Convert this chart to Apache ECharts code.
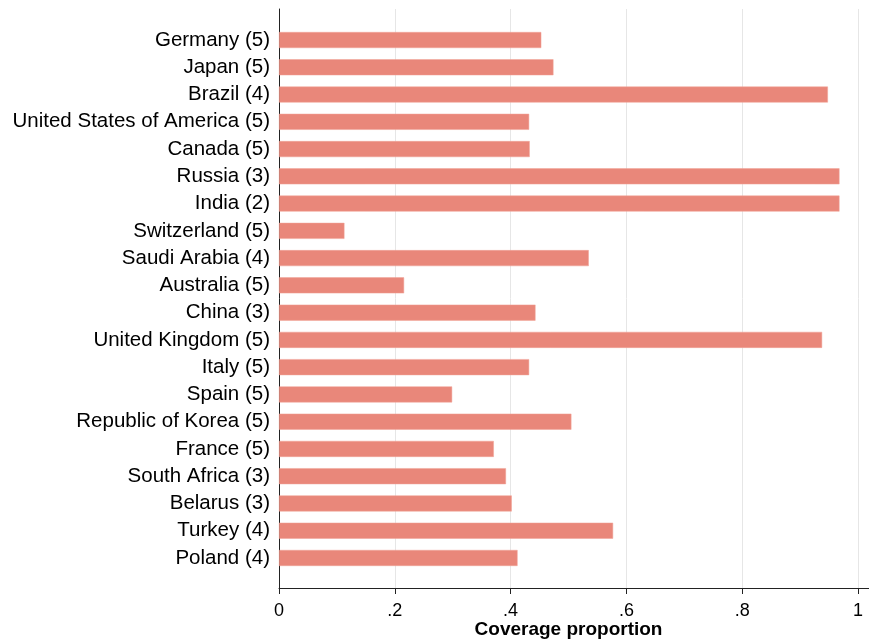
<!DOCTYPE html>
<html>
<head>
<meta charset="utf-8">
<script src="https://cdn.jsdelivr.net/npm/echarts@6/dist/echarts.min.js"></script>
<style>
html,body{margin:0;padding:0;background:#fff;}
#chart{width:869px;height:641px;}
</style>
</head>
<body>
<div id="chart"></div>
<script>
const categories = [
  "Germany (5)", "Japan (5)", "Brazil (4)", "United States of America (5)", "Canada (5)",
  "Russia (3)", "India (2)", "Switzerland (5)", "Saudi Arabia (4)", "Australia (5)",
  "China (3)", "United Kingdom (5)", "Italy (5)", "Spain (5)", "Republic of Korea (5)",
  "France (5)", "South Africa (3)", "Belarus (3)", "Turkey (4)", "Poland (4)"
];
const coverage = [
  0.453, 0.474, 0.948, 0.432, 0.433,
  0.968, 0.968, 0.113, 0.535, 0.216,
  0.443, 0.938, 0.432, 0.299, 0.505,
  0.371, 0.392, 0.402, 0.577, 0.412
];
const xTicks = [0, 0.2, 0.4, 0.6, 0.8, 1];
const xTitle = "Coverage proportion";

const chart = echarts.init(document.getElementById('chart'), null, {renderer: 'canvas'});
const font = "'Liberation Sans', Arial, Helvetica, sans-serif";
const fmt = v => {
  if (Math.abs(v) < 1e-9) return '0';
  if (Math.abs(v - 1) < 1e-9) return '1';
  return String(+v.toFixed(1)).replace(/^0\./, '.');
};
chart.setOption({
  animation: false,
  textStyle: {fontFamily: font},
  grid: [
    {left: 279, right: 11, top: 9, bottom: 53, containLabel: false, outerBoundsMode: 'none'},
    {left: 279, right: 11, top: 26.4, bottom: 69.4, containLabel: false, outerBoundsMode: 'none'}
  ],
  xAxis: [
    {
      gridIndex: 0, type: 'value', min: xTicks[0], max: xTicks[xTicks.length - 1], interval: 0.2,
      position: 'bottom',
      axisLine: {show: true, onZero: false, lineStyle: {color: '#222', width: 1}},
      axisTick: {show: true, length: 6, lineStyle: {color: '#222'}},
      axisLabel: {formatter: fmt, fontSize: 18, color: '#000', margin: 14, fontFamily: font},
      splitLine: {show: true, lineStyle: {color: '#e6e6e6', width: 1}},
      name: xTitle, nameLocation: 'middle', nameGap: 32, nameMoveOverlap: false,
      nameTextStyle: {fontSize: 19, fontWeight: 'bold', color: '#000', fontFamily: font, verticalAlign: 'top'}
    },
    {
      gridIndex: 1, type: 'value', min: 0, max: 1, show: false
    }
  ],
  yAxis: [
    {
      gridIndex: 0, type: 'value', min: 0, max: 1, position: 'left',
      axisLine: {show: true, onZero: false, lineStyle: {color: '#222', width: 1}},
      axisTick: {show: false}, axisLabel: {show: false}, splitLine: {show: false}
    },
    {
      gridIndex: 1, type: 'category', data: categories, inverse: true,
      axisLine: {show: false}, axisTick: {show: false}, splitLine: {show: false},
      axisLabel: {interval: 0, fontSize: 20.5, color: '#000', margin: 9, fontFamily: font}
    }
  ],
  series: [{
    type: 'bar', xAxisIndex: 1, yAxisIndex: 1,
    data: coverage, barWidth: 16,
    itemStyle: {color: '#E9877A', borderColor: '#F0A396', borderWidth: 0.5}
  }]
});
const p0 = chart.convertToPixel({xAxisIndex: 0, yAxisIndex: 0}, [0, 0]);
const yLine = Math.round(p0[1]) + 0.5;
chart.setOption({
  graphic: [
    {type: 'line', shape: {x1: p0[0], y1: yLine, x2: 869, y2: yLine}, style: {stroke: '#222', lineWidth: 1}, silent: true, z: 10}
  ]
});
</script>
</body>
</html>
